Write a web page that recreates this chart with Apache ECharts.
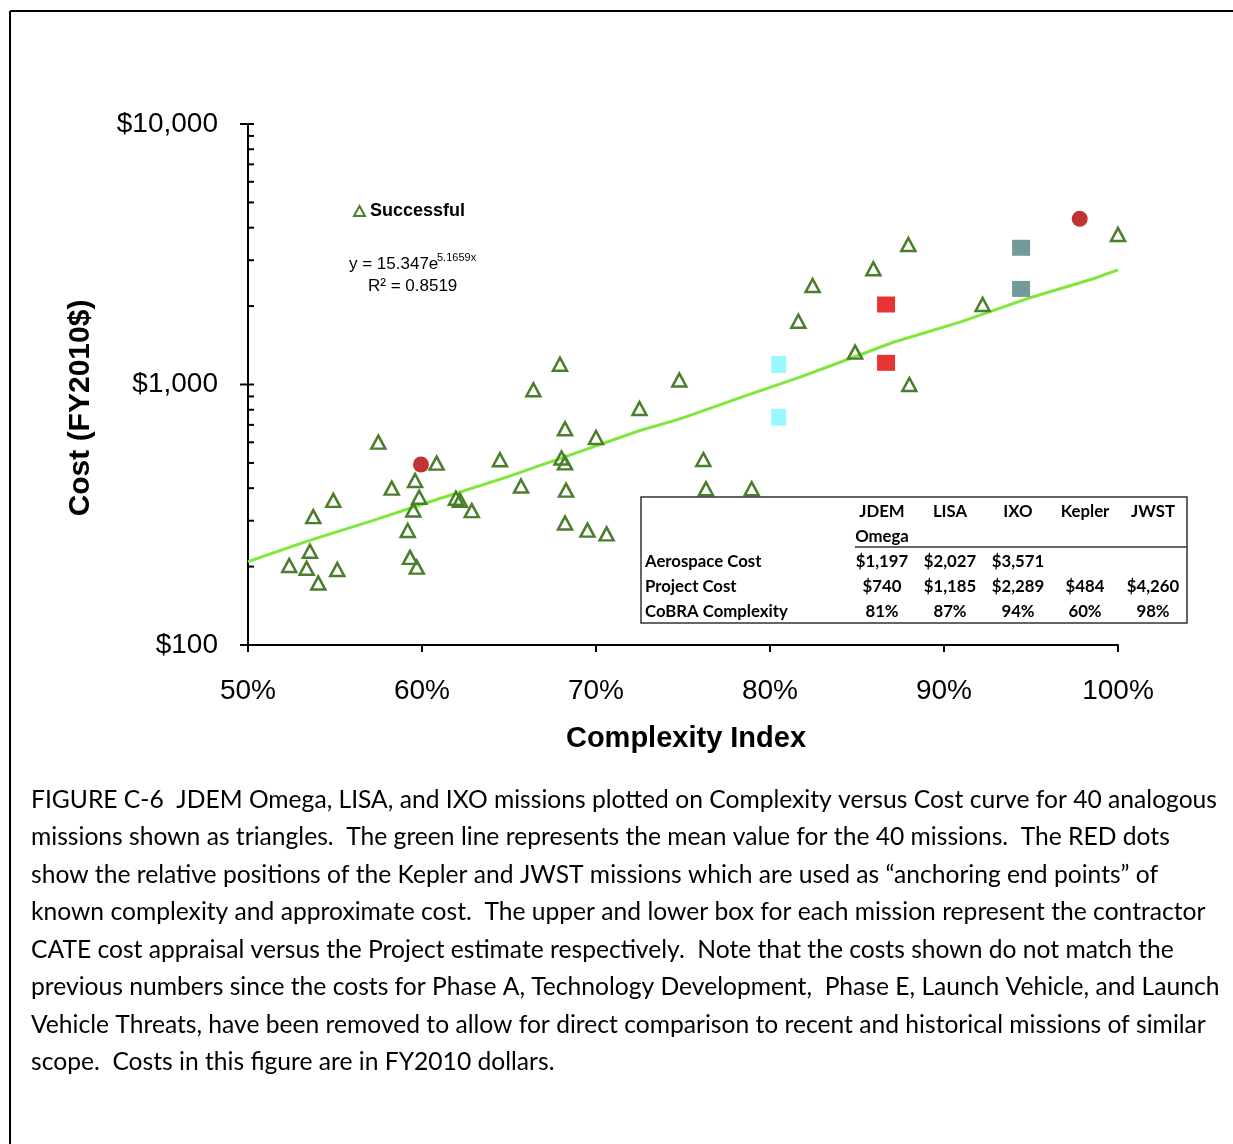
<!DOCTYPE html>
<html>
<head>
<meta charset="utf-8">
<script src="https://cdn.jsdelivr.net/npm/echarts@6/dist/echarts.min.js"></script>
<style>html,body{margin:0;padding:0;background:#fff}#c{width:1233px;height:1144px}</style>
</head>
<body>
<div id="c"></div>
<script>
// ---- data ----
const successX = [52.37,53.37,54.04,53.56,53.75,54.90,55.13,57.49,58.26,59.18,59.31,59.70,59.50,59.60,59.84,60.84,61.95,62.18,62.86,64.48,65.69,66.40,67.93,68.22,68.02,68.22,68.28,68.22,69.51,70.61,70.00,72.50,74.79,76.17,76.32,78.95,81.63,82.45,84.89,85.94,87.95,88.01,92.22,100.0];
const successY = [202,197,173,229,311,359,195,601,400,275,217,199,330,428,369,499,366,359,328,514,408,954,1196,676,522,500,393,294,276,267,626,809,1041,515,398,398,1750,2399,1331,2781,3447,1000,2028,3766];

const trendX = [50.0,53.37,57.20,61.03,64.87,68.70,72.53,74.83,78.66,81.72,83.26,87.09,90.92,94.75,98.58,100.0];
const trendY = [209,250,301,365,441,542,666,738,908,1067,1165,1453,1735,2133,2546,2756];

const missionNames = ['JDEM Omega','LISA','IXO'];
const missionX = [80.5, 86.67, 94.43];
const aerospaceCost = [1193, 2028, 3348];
const projectCost = [749, 1211, 2328];

const anchorNames = ['Kepler','JWST'];
const anchorX = [59.94, 97.8];
const anchorY = [493, 4326];

const xTicks = [50,60,70,80,90,100];
const yTickLabels = {100:'$100', 1000:'$1,000', 10000:'$10,000'};
const yMajorTicks = [100,1000,10000];
const yMinorTicks = [200,300,400,500,600,700,800,900,2000,3000,4000,5000,6000,7000,8000,9000];

const tableCols = [['JDEM','Omega'],['LISA'],['IXO'],['Kepler'],['JWST']];
const tableRows = ['Aerospace Cost','Project Cost','CoBRA Complexity'];
const tableValues = [
  ['$1,197','$2,027','$3,571','',''],
  ['$740','$1,185','$2,289','$484','$4,260'],
  ['81%','87%','94%','60%','98%']
];

const captionLines = [
  'FIGURE C-6  JDEM Omega, LISA, and IXO missions plotted on Complexity versus Cost curve for 40 analogous',
  'missions shown as triangles.  The green line represents the mean value for the 40 missions.  The RED dots',
  'show the relative positions of the Kepler and JWST missions which are used as \u201canchoring end points\u201d of',
  'known complexity and approximate cost.  The upper and lower box for each mission represent the contractor',
  'CATE cost appraisal versus the Project estimate respectively.  Note that the costs shown do not match the',
  'previous numbers since the costs for Phase A, Technology Development,  Phase E, Launch Vehicle, and Launch',
  'Vehicle Threats, have been removed to allow for direct comparison to recent and historical missions of similar',
  'scope.  Costs in this figure are in FY2010 dollars.'
];
const captionRightEdges = [1193,1173,1162,1217,1176,1222,1221,549];

// ---- helpers ----
const cv = document.createElement('canvas').getContext('2d');
function fitSize(text, family, weight, target){
  cv.font = weight + ' 100px ' + family;
  return 100 * target / cv.measureText(text).width;
}
const capFont = 'Lato';
let capSum = 0;
captionLines.forEach((t,i) => { capSum += fitSize(t, capFont, 'normal', captionRightEdges[i] - 31); });
const capSize = capSum / captionLines.length;
const tabFont = 'Lato';
const tabSize = fitSize('CoBRA Complexity', tabFont, 'bold', 143);

const zip = (a,b) => a.map((v,i)=>[v,b[i]]);

const graphics = [];
// frame
graphics.push({type:'line', shape:{x1:10,y1:11,x2:1233,y2:11}, style:{stroke:'#000', lineWidth:2}});
graphics.push({type:'line', shape:{x1:10,y1:11,x2:10,y2:1144}, style:{stroke:'#000', lineWidth:2}});
// axis titles
graphics.push({type:'text', x:686, y:739, style:{text:'Complexity Index', font:'bold 29px "Liberation Sans", Arial, sans-serif', fill:'#000', align:'center', verticalAlign:'middle'}});
graphics.push({type:'text', x:81, y:408, rotation:Math.PI/2, style:{text:'Cost (FY2010$)', font:'bold 30px "Liberation Sans", Arial, sans-serif', fill:'#000', align:'center', verticalAlign:'middle'}});
// equation
graphics.push({type:'text', x:349, y:264, style:{text:'y = 15.347e', font:'17px "Liberation Sans", Arial, sans-serif', fill:'#000', verticalAlign:'middle'}});
graphics.push({type:'text', x:437, y:258, style:{text:'5.1659x', font:'11px "Liberation Sans", Arial, sans-serif', fill:'#000', verticalAlign:'middle'}});
graphics.push({type:'text', x:368, y:286, style:{text:'R\u00b2 = 0.8519', font:'17px "Liberation Sans", Arial, sans-serif', fill:'#000', verticalAlign:'middle'}});
// table
graphics.push({type:'rect', shape:{x:641,y:497,width:546,height:126}, style:{fill:'#fff', stroke:'#333', lineWidth:1.5}, z:50});
graphics.push({type:'line', shape:{x1:855,y1:547,x2:1187,y2:547}, style:{stroke:'#333', lineWidth:1.5}, z:51});
const colCenters = [882, 950, 1018, 1085, 1153];
const tf = 'bold ' + tabSize.toFixed(2) + 'px ' + tabFont + ', sans-serif';
tableCols.forEach((lines, i) => {
  lines.forEach((t, j) => graphics.push({type:'text', x:colCenters[i], y:512 + j*25, z:52, style:{text:t, font:tf, fill:'#000', align:'center', verticalAlign:'middle'}}));
});
tableRows.forEach((r, k) => {
  graphics.push({type:'text', x:645, y:562 + k*25, z:52, style:{text:r, font:tf, fill:'#000', align:'left', verticalAlign:'middle'}});
  tableValues[k].forEach((v, i) => {
    if (v) graphics.push({type:'text', x:colCenters[i], y:562 + k*25, z:52, style:{text:v, font:tf, fill:'#000', align:'center', verticalAlign:'middle'}});
  });
});
// caption
captionLines.forEach((t, i) => {
  graphics.push({type:'text', x:31, y:800 + i*37.5, style:{text:t, font:capSize.toFixed(2) + 'px ' + capFont + ', sans-serif', fill:'#000', verticalAlign:'middle'}});
});

const tickData = yMajorTicks.map(v => [50, v, 1]).concat(yMinorTicks.map(v => [50, v, 0]));

const chart = echarts.init(document.getElementById('c'), null, {renderer:'canvas'});
chart.setOption({
  backgroundColor:'#fff',
  animation:false,
  grid:{left:248, top:124, width:870, height:521},
  legend:{
    data:['Successful'], left:348, top:197, itemWidth:11, itemHeight:10, itemGap:4,
    textStyle:{fontFamily:'"Liberation Sans", Arial, sans-serif', fontWeight:'bold', fontSize:18, color:'#000'}
  },
  xAxis:{
    type:'value', min:50, max:100, interval:10,
    axisLine:{show:true, lineStyle:{color:'#000', width:2}},
    axisTick:{show:true, length:7, lineStyle:{color:'#000', width:2}},
    splitLine:{show:false},
    axisLabel:{margin:32, formatter: v => xTicks.includes(v) ? v + '%' : '', fontFamily:'"Liberation Sans", Arial, sans-serif', fontSize:28, color:'#000'}
  },
  yAxis:{
    type:'log', logBase:10, min:100, max:10000,
    axisLine:{show:true, lineStyle:{color:'#000', width:2}},
    axisTick:{show:false},
    splitLine:{show:false},
    axisLabel:{margin:30, formatter: v => yTickLabels[Math.round(v)] || '', fontFamily:'"Liberation Sans", Arial, sans-serif', fontSize:28, color:'#000'}
  },
  graphic: graphics,
  series:[
    {
      name:'Ticks', type:'custom', coordinateSystem:'cartesian2d', clip:false, silent:true,
      data: tickData, encode:{x:0, y:1},
      renderItem:(params, api) => {
        const p = api.coord([api.value(0), api.value(1)]);
        const major = api.value(2) === 1;
        return {type:'line', shape:{x1:p[0] - (major ? 8 : 0), y1:p[1], x2:p[0] + 6, y2:p[1]}, style:{stroke:'#000', lineWidth:2}};
      },
      z:5
    },
    {
      name:'Trend', type:'line', data: zip(trendX, trendY), showSymbol:false, symbol:'none',
      lineStyle:{color:'#7ee83a', width:3}, z:2, silent:true
    },
    {
      name:'Successful', type:'scatter', data: zip(successX, successY),
      symbol:'triangle', symbolSize:[14,13],
      itemStyle:{color:'rgba(255,255,255,0)', borderColor:'#4a7d2c', borderWidth:2.5, opacity:1},
      z:4
    },
    {
      name: missionNames[0], type:'scatter', symbol:'rect', symbolSize:[15,17],
      data: [[missionX[0], aerospaceCost[0]], [missionX[0], projectCost[0]]],
      itemStyle:{color:'#80f8ff'}, z:3
    },
    {
      name: missionNames[1], type:'scatter', symbol:'rect', symbolSize:[18,16],
      data: [[missionX[1], aerospaceCost[1]], [missionX[1], projectCost[1]]],
      itemStyle:{color:'#e00000'}, z:3
    },
    {
      name: missionNames[2], type:'scatter', symbol:'rect', symbolSize:[18,16],
      data: [[missionX[2], aerospaceCost[2]], [missionX[2], projectCost[2]]],
      itemStyle:{color:'#4d8280'}, z:3
    },
    {
      name:'Anchors', type:'scatter', symbol:'circle', symbolSize:16,
      data: zip(anchorX, anchorY).map((d,i)=>({name:anchorNames[i], value:d})),
      itemStyle:{color:'#b00000'}, z:3
    }
  ]
});
</script>
</body>
</html>
